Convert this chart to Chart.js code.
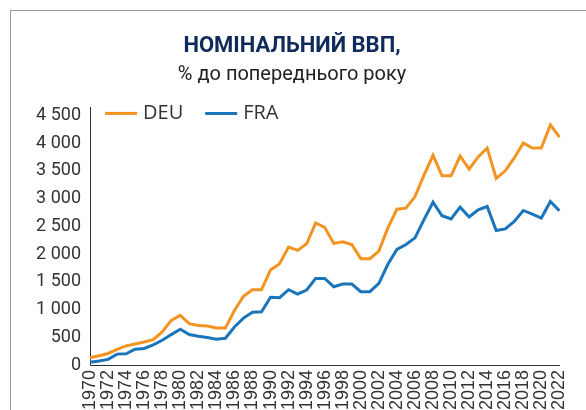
<!DOCTYPE html>
<html>
<head>
<meta charset="utf-8">
<script src="https://cdn.jsdelivr.net/npm/chart.js@4"></script>
<style>
  html, body { margin: 0; padding: 0; background: #fff; overflow: hidden; }
  #frame { position: absolute; left: 10px; top: 10px; width: 600px; height: 420px;
    border-left: 1px solid #9a9a9a; border-top: 1px solid #9a9a9a; }
  #wrap { position: absolute; left: 0; top: 0; width: 586px; height: 410px; }
</style>
</head>
<body>
<div id="frame"></div>
<div id="wrap"><canvas id="chart" width="586" height="410"></canvas></div>
<script>
const years = [
  '1970','1971','1972','1973','1974','1975','1976','1977','1978','1979',
  '1980','1981','1982','1983','1984','1985','1986','1987','1988','1989',
  '1990','1991','1992','1993','1994','1995','1996','1997','1998','1999',
  '2000','2001','2002','2003','2004','2005','2006','2007','2008','2009',
  '2010','2011','2012','2013','2014','2015','2016','2017','2018','2019',
  '2020','2021','2022'
]

const deu = [
  130, 166, 208, 280, 345, 380, 416, 458, 595, 804,
  893, 744, 714, 702, 667, 667, 982, 1238, 1357, 1357,
  1714, 1827, 2125, 2066, 2184, 2560, 2482, 2191, 2220, 2173,
  1917, 1917, 2054, 2470, 2809, 2827, 3036, 3423, 3780, 3411,
  3411, 3768, 3530, 3750, 3911, 3363, 3500, 3732, 4000, 3911,
  3911, 4327, 4107
]

const fra = [
  48, 71, 101, 196, 202, 286, 298, 363, 446, 548,
  643, 548, 518, 494, 464, 482, 685, 845, 952, 958,
  1220, 1214, 1357, 1280, 1351, 1560, 1560, 1411, 1458, 1458,
  1321, 1321, 1470, 1815, 2083, 2173, 2292, 2619, 2934, 2690,
  2631, 2845, 2667, 2798, 2857, 2423, 2452, 2589, 2786, 2720,
  2649, 2946, 2780
]

const yTicks = [0, 500, 1000, 1500, 2000, 2500, 3000, 3500, 4000, 4500]

const orange = '#F39322'
const blue = '#1B75BB'
const textColor = '#333333'
const font = 'Roboto, "DejaVu Sans", sans-serif'

// legend drawn inside the plot, top-left, like the original
const insideLegend = {
  id: 'insideLegend',
  afterDraw(chart) {
    const c = chart.ctx
    const area = chart.chartArea
    let x = area.left + 15
    const y = area.top + 6
    c.save()
    c.font = '20px "Open Sans", ' + font
    c.textBaseline = 'middle'
    chart.data.datasets.forEach(ds => {
      c.strokeStyle = ds.borderColor
      c.lineWidth = 3
      c.beginPath()
      c.moveTo(x, y)
      c.lineTo(x + 32, y)
      c.stroke()
      x += 38
      c.fillStyle = textColor
      c.fillText(ds.label, x, y)
      x += c.measureText(ds.label).width + 22
    })
    c.restore()
  }
}

let ctx = document.getElementById('chart').getContext('2d')
new Chart(ctx, {
  type: 'line',
  data: {
    labels: years,
    datasets: [
      { label: 'DEU', data: deu, borderColor: orange, backgroundColor: orange,
        borderWidth: 3, pointRadius: 0, tension: 0 },
      { label: 'FRA', data: fra, borderColor: blue, backgroundColor: blue,
        borderWidth: 3, pointRadius: 0, tension: 0 }
    ]
  },
  plugins: [insideLegend],
  options: {
    responsive: false,
    animation: false,
    layout: { padding: { left: 16, right: 18, top: 0, bottom: 0 } },
    plugins: {
      title: {
        display: true,
        text: 'НОМІНАЛЬНИЙ ВВП,',
        color: '#0f2b5b',
        font: { family: font, size: 22, weight: 'bold' },
        padding: { top: 33, bottom: 4 }
      },
      subtitle: {
        display: true,
        text: '% до попереднього року',
        color: '#222',
        font: { family: font, size: 20 },
        padding: { top: 0, bottom: 20 }
      },
      legend: { display: false },
      tooltip: { enabled: false }
    },
    scales: {
      x: {
        offset: false,
        grid: { display: false, drawTicks: false },
        border: { display: true, color: '#333', width: 1 },
        ticks: {
          autoSkip: false,
          maxRotation: 90,
          minRotation: 90,
          padding: 5,
          color: textColor,
          font: { family: '"Liberation Sans", Arial, sans-serif', size: 18 },
          callback: function (v, i) { return i % 2 === 0 ? years[i] : '' }
        },
        afterFit: s => { s.height = 45 }
      },
      y: {
        min: 0,
        max: 4643,
        grid: { display: false, drawTicks: false },
        border: { display: true, color: '#333', width: 1 },
        ticks: {
          autoSkip: false,
          padding: 9,
          color: textColor,
          font: { family: font, size: 18 },
          callback: v => String(v).replace(/\B(?=(\d{3})+(?!\d))/g, ' ')
        },
        afterBuildTicks: s => { s.ticks = yTicks.map(v => ({ value: v })) },
        afterFit: s => { s.width = 74 }
      }
    }
  }
})
</script>
</body>
</html>
